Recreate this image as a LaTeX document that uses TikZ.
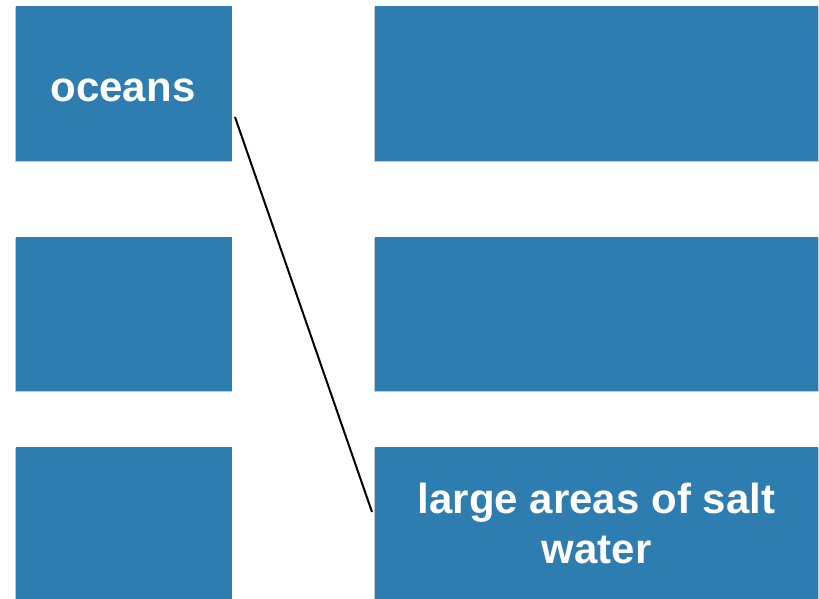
\documentclass[tikz,border=0pt]{standalone}
\usepackage{fontspec}
\setmainfont{Liberation Sans}
\usetikzlibrary{calc}
\definecolor{cardblue}{RGB}{46,125,176}
\definecolor{cardshadow}{RGB}{200,200,200}
\begin{document}
\begin{tikzpicture}[x=1pt,y=-1pt,
  card/.style={fill=cardblue, draw=none, inner sep=0pt, outer sep=0pt},
  cardtext/.style={text=white, font=\bfseries\fontsize{42}{50}\selectfont, align=center, inner sep=0pt},
  link/.style={draw=black, line width=2pt}]
\useasboundingbox (0,0) rectangle (819,599);
\begin{scope}
\clip (0,0) rectangle (819,599);
% shadows
\fill[cardshadow] (15,7) rectangle (232,162);
\fill[cardshadow] (15,238) rectangle (232,392);
\fill[cardshadow] (15,448) rectangle (232,610);
\fill[cardshadow] (374,7) rectangle (819,162);
\fill[cardshadow] (374,238) rectangle (819,392);
\fill[cardshadow] (374,448) rectangle (819,610);
% cards
\node[card, minimum width=216pt, minimum height=155pt] (b1) at (124,83.5) {};
\node[card, minimum width=216pt, minimum height=154pt] (b2) at (124,314) {};
\node[card, minimum width=216pt, minimum height=163pt] (b3) at (124,528.5) {};
\node[card, minimum width=443pt, minimum height=155pt] (r1) at (596.5,83.5) {};
\node[card, minimum width=443pt, minimum height=154pt] (r2) at (596.5,314) {};
\node[card, minimum width=443pt, minimum height=163pt] (r3) at (596.5,528.5) {};
\end{scope}
\node[cardtext, anchor=base] (t1) at (123,102) {oceans};
\node[cardtext, anchor=base] (t3a) at (596.5,513) {large areas of salt};
\node[cardtext, anchor=base] (t3b) at (596.5,563) {water};
\draw[link] ($(b1.east)+(3,33.5)$) -- ($(r3.west)+(-3,-16.5)$);
\end{tikzpicture}
\end{document}
